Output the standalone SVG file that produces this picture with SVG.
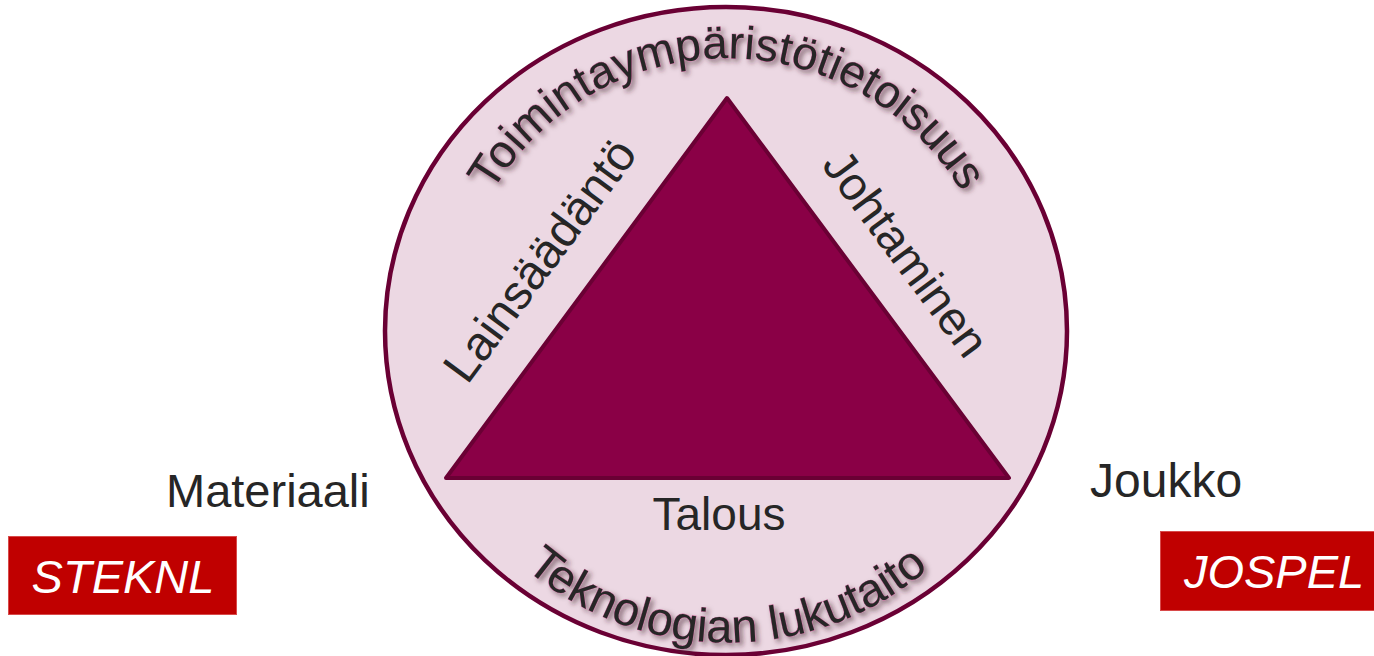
<svg xmlns="http://www.w3.org/2000/svg" width="1374" height="656" viewBox="0 0 1374 656">
<style>
text{font-family:"Liberation Sans",Arial,sans-serif;fill:#262626}
.arc{stroke:#c8689a;stroke-width:0.8;paint-order:stroke;filter:url(#sh)}
.lbl{font-size:47px}
.tag{font-size:47px;font-style:italic;fill:#ffffff;text-anchor:middle}
.box{fill:#c00000;stroke:#d84a4a;stroke-width:1}
</style>
<defs>
<filter id="sh" x="-10%" y="-30%" width="120%" height="160%">
<feDropShadow dx="3" dy="3" stdDeviation="2.5" flood-color="#3c1c2c" flood-opacity="0.55"/>
</filter>
<path id="topArc" d="M 489.6 196.5 A 273 273 0 0 1 964.4 196.5"/>
<path id="botArc" d="M 520 564 A 312 312 0 0 0 934 564"/>
</defs>
<g id="circle">
<ellipse cx="726" cy="331" rx="341" ry="324" fill="#ecd8e3" stroke="#6a0034" stroke-width="4.5"/>
</g>
<g id="triangle">
<polygon points="727,98 1009,478 446,478" fill="#8a0046" stroke="#6a0034" stroke-width="4" stroke-linejoin="round"/>
</g>
<g id="outer-top">
<text class="arc" style="font-size:46px"><textPath href="#topArc" startOffset="50%" text-anchor="middle">Toimintaympäristötietoisuus</textPath></text>
</g>
<g id="outer-bottom">
<text class="arc" style="font-size:47px"><textPath href="#botArc" startOffset="50%" text-anchor="middle">Teknologian lukutaito</textPath></text>
</g>
<g id="side-left">
<text class="lbl" text-anchor="middle" transform="translate(553,270) rotate(-53.5)" style="font-size:48px">Lainsäädäntö</text>
</g>
<g id="side-right">
<text class="lbl" text-anchor="middle" transform="translate(893,263) rotate(53.5)" style="font-size:47px">Johtaminen</text>
</g>
<g id="side-bottom">
<text class="lbl" text-anchor="middle" x="719" y="530" style="font-size:46px">Talous</text>
</g>
<g id="materiaali">
<text class="lbl" x="166" y="507">Materiaali</text>
</g>
<g id="joukko">
<text class="lbl" x="1090" y="497" style="font-size:48px">Joukko</text>
</g>
<g id="steknl">
<rect class="box" x="8.5" y="536.5" width="228" height="78"/>
<text class="tag" x="123" y="593">STEKNL</text>
</g>
<g id="jospel">
<rect class="box" x="1160.5" y="531.5" width="220" height="79"/>
<text class="tag" x="1274" y="588">JOSPEL</text>
</g>
</svg>
